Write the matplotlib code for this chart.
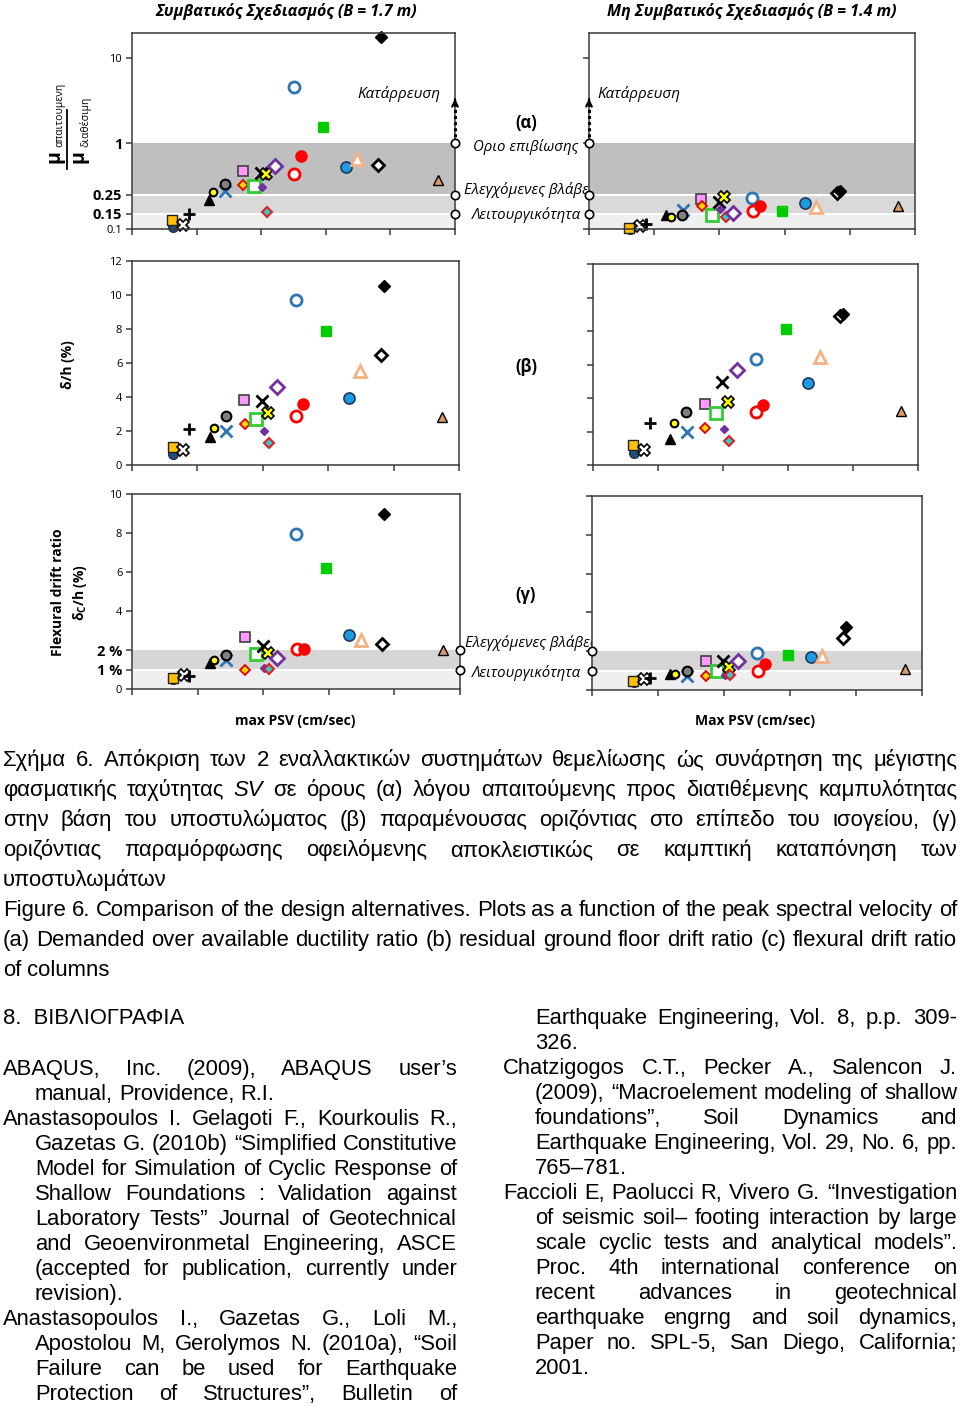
import matplotlib
matplotlib.use('Agg')
import matplotlib.pyplot as plt
from matplotlib.lines import Line2D
from matplotlib.ticker import NullLocator

W, H = 960, 1406
CHART_FONT = ['Open Sans', 'DejaVu Sans']
TEXT_FONT = ['Liberation Sans', 'DejaVu Sans']
plt.rcParams['font.family'] = CHART_FONT

# peak spectral velocity of each record (cm/s), same for every panel
psv = [31.5, 31.0, 39.3, 43.8, 59.3, 62.6, 72.0, 71.7, 86.0, 86.3, 94.5, 99.6, 100.6,
       103.6, 104.8, 110.8, 125.3, 125.5, 131.0, 148.2, 165.6, 174.3, 190.3, 192.4, 236.8]

# (a) demanded / available ductility
mu_conv = [0.105, 0.126, 0.11, 0.151, 0.22, 0.27, 0.28, 0.34, 0.48, 0.33, 0.32, 0.45, 0.31,
           0.44, 0.157, 0.547, 4.6, 0.445, 0.72, 1.55, 0.53, 0.65, 0.567, 17.5, 0.37]
mu_nonconv = [0.1, 0.103, 0.109, 0.113, 0.145, 0.137, 0.165, 0.145, 0.225, 0.185, 0.147, 0.207,
              0.173, 0.237, 0.137, 0.155, 0.233, 0.161, 0.186, 0.163, 0.202, 0.181, 0.264, 0.278, 0.187]

# (b) residual drift delta/h (%)
drift_conv = [0.66, 1.05, 0.90, 2.13, 1.64, 2.15, 2.0, 2.91, 3.85, 2.4, 2.72, 3.75, 2.0,
              3.07, 1.29, 4.59, 9.69, 2.87, 3.6, 7.88, 3.97, 5.51, 6.47, 10.53, 2.81]
drift_nonconv = [0.70, 1.18, 0.92, 2.48, 1.56, 2.48, 1.96, 3.19, 3.67, 2.2, 3.11, 4.95, 2.14,
                 3.77, 1.46, 5.65, 6.33, 3.17, 3.59, 8.14, 4.87, 6.47, 8.92, 9.0, 3.25]

# (c) flexural drift deltaC/h (%)
flex_conv = [0.5, 0.55, 0.72, 0.68, 1.33, 1.5, 1.5, 1.72, 2.65, 0.99, 1.77, 2.22, 1.06,
             1.83, 1.02, 1.59, 7.97, 2.05, 2.05, 6.21, 2.76, 2.53, 2.32, 8.96, 1.98]
flex_nonconv = [0.42, 0.45, 0.57, 0.62, 0.83, 0.83, 0.72, 0.98, 1.47, 0.71, 1.0, 1.47, 0.79,
                1.16, 0.79, 1.48, 1.9, 1.0, 1.33, 1.79, 1.72, 1.76, 2.67, 3.24, 1.09]

styles = [
    dict(marker='o', ms=7, mfc='#1F4E79', mec='#1F3050', mew=1),
    dict(marker='s', ms=6.5, mfc='#FFC000', mec='#202020', mew=1),
    dict(marker='X', ms=8, mfc='white', mec='black', mew=1.2),
    dict(marker='+', ms=9, mec='black', mew=2),
    dict(marker='^', ms=7, mfc='black', mec='black', mew=1),
    dict(marker='o', ms=5.5, mfc='#FFFF00', mec='black', mew=1.5),
    dict(marker='x', ms=9, mec='#2E75B6', mew=2),
    dict(marker='o', ms=7, mfc='#808080', mec='black', mew=1.5),
    dict(marker='s', ms=7, mfc='#FF99FF', mec='#404040', mew=1.2),
    dict(marker='D', ms=5.5, mfc='#FFD700', mec='#E00000', mew=1.3),
    dict(marker='s', ms=8, mfc='white', mec='#33CC33', mew=2),
    dict(marker='x', ms=9, mec='black', mew=2),
    dict(marker='D', ms=4.5, mfc='#7030A0', mec='#7030A0', mew=1),
    dict(marker='X', ms=8, mfc='#FFFF00', mec='black', mew=1.2),
    dict(marker='D', ms=5.5, mfc='#33CCCC', mec='#E02020', mew=1.5),
    dict(marker='D', ms=7, mfc='white', mec='#7030A0', mew=2),
    dict(marker='o', ms=8, mfc='white', mec='#2E75B6', mew=2),
    dict(marker='o', ms=8, mfc='white', mec='#FF0000', mew=2),
    dict(marker='o', ms=8, mfc='#FF0000', mec='#FF0000', mew=1),
    dict(marker='s', ms=7.5, mfc='#00CC00', mec='#00CC00', mew=1),
    dict(marker='o', ms=8, mfc='#1E9BE0', mec='#1F3864', mew=1.2),
    dict(marker='^', ms=8.5, mfc='white', mec='#F4B183', mew=2),
    dict(marker='D', ms=6.5, mfc='white', mec='black', mew=2),
    dict(marker='D', ms=6.5, mfc='black', mec='black', mew=1),
    dict(marker='^', ms=7.5, mfc='#D99A6C', mec='black', mew=1),
]

caption_gr = [
    "Σχήμα 6. Απόκριση των 2 εναλλακτικών συστημάτων θεμελίωσης ώς συνάρτηση της μέγιστης",
    "φασματικής ταχύτητας SV σε όρους (α) λόγου απαιτούμενης προς διατιθέμενης καμπυλότητας",
    "στην βάση του υποστυλώματος (β) παραμένουσας οριζόντιας στο επίπεδο του ισογείου, (γ)",
    "οριζόντιας παραμόρφωσης οφειλόμενης αποκλειστικώς σε καμπτική καταπόνηση των",
    "υποστυλωμάτων",
]
caption_en = [
    "Figure 6. Comparison of the design alternatives. Plots as a function of the peak spectral velocity of",
    "(a) Demanded over available ductility ratio (b) residual ground floor drift ratio (c) flexural drift ratio",
    "of columns",
]
# (text, hanging indent, justified)
refs_left = [
    ("ABAQUS, Inc. (2009), ABAQUS user’s", 0, True),
    ("manual, Providence, R.I.", 1, False),
    ("Anastasopoulos I. Gelagoti F., Kourkoulis R.,", 0, True),
    ("Gazetas G. (2010b) “Simplified Constitutive", 1, True),
    ("Model for Simulation of Cyclic Response of", 1, True),
    ("Shallow Foundations : Validation against", 1, True),
    ("Laboratory Tests” Journal of Geotechnical", 1, True),
    ("and Geoenvironmetal Engineering, ASCE", 1, True),
    ("(accepted for publication, currently under", 1, True),
    ("revision).", 1, False),
    ("Anastasopoulos I., Gazetas G., Loli M.,", 0, True),
    ("Apostolou M, Gerolymos N. (2010a), “Soil", 1, True),
    ("Failure can be used for Earthquake", 1, True),
    ("Protection of Structures”, Bulletin of", 1, True),
]
refs_right = [
    ("Earthquake Engineering, Vol. 8, p.p. 309-", 1, True),
    ("326.", 1, False),
    ("Chatzigogos C.T., Pecker A., Salencon J.", 0, True),
    ("(2009), “Macroelement modeling of shallow", 1, True),
    ("foundations”, Soil Dynamics and", 1, True),
    ("Earthquake Engineering, Vol. 29, No. 6, pp.", 1, True),
    ("765–781.", 1, False),
    ("Faccioli E, Paolucci R, Vivero G. “Investigation", 0, True),
    ("of seismic soil– footing interaction by large", 1, True),
    ("scale cyclic tests and analytical models”.", 1, True),
    ("Proc. 4th international conference on", 1, True),
    ("recent advances in geotechnical", 1, True),
    ("earthquake engrng and soil dynamics,", 1, True),
    ("Paper no. SPL-5, San Diego, California;", 1, True),
    ("2001.", 1, False),
]

SPINE = '#3A3A3A'
fig = plt.figure(figsize=(W / 100, H / 100), dpi=100)
renderer = fig.canvas.get_renderer()


def px_rect(x0, y0, x1, y1):
    return [x0 / W, 1 - y1 / H, (x1 - x0) / W, (y1 - y0) / H]


def put(x, y, s, **kw):
    return fig.text(x / W, 1 - y / H, s, **kw)


def make_panel(box, ylim, yticks, log=False):
    ax = fig.add_axes(px_rect(*box))
    if log:
        ax.set_yscale('log')
    ax.set_xlim(0, 250)
    ax.set_ylim(*ylim)
    ax.set_xticks(range(0, 251, 50))
    ax.set_xticklabels([])
    ax.set_yticks(yticks)
    ax.yaxis.set_minor_locator(NullLocator())
    ax.xaxis.set_minor_locator(NullLocator())
    for sp in ax.spines.values():
        sp.set_color(SPINE)
        sp.set_linewidth(1.1)
        sp.set_zorder(4)
    ax.tick_params(direction='out', length=4, width=1.1, color=SPINE, labelsize=8, pad=3)
    return ax


def label_ticks(ax, labels, bold):
    ax.set_yticklabels(labels)
    for lab, b in zip(ax.get_yticklabels(), bold):
        if b:
            lab.set_fontweight('bold')
            lab.set_fontsize(10.5)


def bands(ax, edges, colors):
    for lo, hi, c in zip(edges[:-1], edges[1:], colors):
        ax.axhspan(lo, hi, color=c, lw=0, zorder=0)
    for e in edges[1:-1]:
        ax.axhline(e, color='white', lw=1.5, zorder=0.5)


def draw_points(ax, yvals):
    for i, (x, y, st) in enumerate(zip(psv, yvals, styles)):
        ax.plot([x], [y], ls='none', zorder=3 + i * 0.01, clip_on=False, **st)


def edge_circles(ax, xa, ys):
    ax.plot([xa] * len(ys), ys, ls='none', marker='o', ms=6, mfc='white', mec='black',
            mew=1.2, transform=ax.get_yaxis_transform(), clip_on=False, zorder=6)


def collapse_arrow(ax, xa):
    tr = ax.get_yaxis_transform()
    ax.plot([xa, xa], [1.0, 3.2], ls=(0, (1, 1)), lw=2.2, color='black',
            transform=tr, clip_on=False, zorder=5)
    ax.annotate('', xy=(xa, 3.6), xytext=(xa, 3.0), xycoords=tr, textcoords=tr,
                arrowprops=dict(arrowstyle='->', lw=1.6, color='black', mutation_scale=10),
                annotation_clip=False, zorder=5)


# ---------- (a) ductility ratio, log scale ----------
mu_edges = [0.1, 0.15, 0.25, 1.0]
mu_cols = ['#EFEFEF', '#D9D9D9', '#BFBFBF']
ax1 = make_panel((132, 33, 455, 229), (0.1, 19.5), [0.1, 0.15, 0.25, 1, 10], log=True)
bands(ax1, mu_edges, mu_cols)
label_ticks(ax1, ['0.1', '0.15', '0.25', '1', '10'], [False, True, True, True, False])
draw_points(ax1, mu_conv)
edge_circles(ax1, 1.0, [1.0, 0.25, 0.15])
collapse_arrow(ax1, 1.0)

ax2 = make_panel((589, 33, 915, 229), (0.1, 19.5), [0.1, 1, 10], log=True)
bands(ax2, mu_edges, mu_cols)
ax2.set_yticklabels([])
draw_points(ax2, mu_nonconv)
edge_circles(ax2, 0.0, [1.0, 0.25, 0.15])
collapse_arrow(ax2, 0.0)

# ---------- (b) residual drift ----------
ax3 = make_panel((132, 261, 459, 465), (0, 12), range(0, 13, 2))
ax3.set_yticklabels([str(v) for v in range(0, 13, 2)])
draw_points(ax3, drift_conv)
ax4 = make_panel((593, 264, 918, 465), (0, 12), range(0, 13, 2))
ax4.set_yticklabels([])
draw_points(ax4, drift_nonconv)

# ---------- (c) flexural drift ----------
fl_edges = [0, 1, 2]
fl_cols = ['#EFEFEF', '#D6D6D6']
ax5 = make_panel((132, 494, 460, 689), (0, 10), [0, 1, 2, 4, 6, 8, 10])
bands(ax5, fl_edges, fl_cols)
label_ticks(ax5, ['0', '1 %', '2 %', '4', '6', '8', '10'], [False, True, True, False, False, False, False])
draw_points(ax5, flex_conv)
edge_circles(ax5, 1.0, [2, 1])
ax6 = make_panel((592, 496, 922, 690), (0, 10), range(0, 11, 2))
bands(ax6, fl_edges, fl_cols)
ax6.set_yticklabels([])
draw_points(ax6, flex_nonconv)
edge_circles(ax6, 0.0, [2, 1])

# ---------- chart texts ----------
put(286, 12, 'Συμβατικός Σχεδιασμός (B = 1.7 m)', fontsize=11.5, weight='bold', style='italic',
    ha='center', va='center')
put(752, 11, 'Μη Συμβατικός Σχεδιασμός (B = 1.4 m)', fontsize=11.5, weight='bold', style='italic',
    ha='center', va='center')
put(357, 94, 'Κατάρρευση', fontsize=11, style='italic', ha='left', va='center')
put(597, 94, 'Κατάρρευση', fontsize=11, style='italic', ha='left', va='center')
put(526, 123, '(α)', fontsize=12, weight='bold', ha='center', va='center')
put(473, 147, 'Οριο επιβίωσης', fontsize=10.8, style='italic', ha='left', va='center')
put(464, 190, 'Ελεγχόμενες βλάβες', fontsize=10.8, style='italic', ha='left', va='center', zorder=-1)
put(472, 215, 'Λειτουργικότητα', fontsize=10.8, style='italic', ha='left', va='center')
put(526, 367, '(β)', fontsize=12, weight='bold', ha='center', va='center')
put(526, 595, '(γ)', fontsize=12, weight='bold', ha='center', va='center')
put(465, 643, 'Ελεγχόμενες βλάβες', fontsize=10.8, style='italic', ha='left', va='center', zorder=-1)
put(472, 673, 'Λειτουργικότητα', fontsize=10.8, style='italic', ha='left', va='center')
put(295, 721, 'max PSV (cm/sec)', fontsize=10, weight='bold', ha='center', va='center')
put(755, 721, 'Max PSV (cm/sec)', fontsize=10, weight='bold', ha='center', va='center')

# y label of (a): mu_demanded / mu_available as a stacked fraction
put(54, 157, 'μ', fontsize=14, weight='bold', rotation=90, ha='center', va='center')
put(60, 147, 'απαιτουμενη', fontsize=7.5, rotation=90, ha='center', va='bottom')
put(79, 157, 'μ', fontsize=14, weight='bold', rotation=90, ha='center', va='center')
put(85, 147, 'διαθέσιμη', fontsize=7.5, rotation=90, ha='center', va='bottom')
fig.add_artist(Line2D([67 / W, 67 / W], [1 - 110 / H, 1 - 169 / H], color='black', lw=1.3))

put(68, 365, 'δ/h (%)', fontsize=10, weight='bold', rotation=90, ha='center', va='center')
put(58, 592, 'Flexural drift ratio', fontsize=10, weight='bold', rotation=90, ha='center', va='center')
put(80, 592, r'δ$_\mathregular{C}$/h (%)', fontsize=10, weight='bold', rotation=90,
    ha='center', va='center')


# ---------- caption and references (justified text) ----------
def text_line(s, x0, x1, y, size, justify):
    words = s.split(' ')
    arts = [put(x0, y, w, fontsize=size, family=TEXT_FONT, va='baseline', ha='left',
                style='italic' if w == 'SV' else 'normal') for w in words]
    widths = [a.get_window_extent(renderer).width for a in arts]
    if justify and len(arts) > 1:
        gap = (x1 - x0 - sum(widths)) / (len(arts) - 1)
    else:
        sp = put(0, 0, 'a a', fontsize=size, family=TEXT_FONT)
        sa = put(0, 0, 'aa', fontsize=size, family=TEXT_FONT)
        gap = sp.get_window_extent(renderer).width - sa.get_window_extent(renderer).width
        sp.remove()
        sa.remove()
    x = x0
    for a, w in zip(arts, widths):
        a.set_x(x / W)
        x += w + gap


for i, s in enumerate(caption_gr + caption_en):
    text_line(s, 3, 957, 766 + 30 * i, 15.9, i not in (4, 7))

put(3, 1024, '8.  ΒΙΒΛΙΟΓΡΑΦΙΑ', fontsize=15.8, family=TEXT_FONT, va='baseline')
for i, (s, ind, just) in enumerate(refs_left):
    text_line(s, 3 + 32 * ind, 457, 1075 + 25 * i, 15.8, just)
for i, (s, ind, just) in enumerate(refs_right):
    text_line(s, 503 + 32 * ind, 957, 1024 + 25 * i, 15.8, just)

fig.savefig('out.png', dpi=100, facecolor='white')
